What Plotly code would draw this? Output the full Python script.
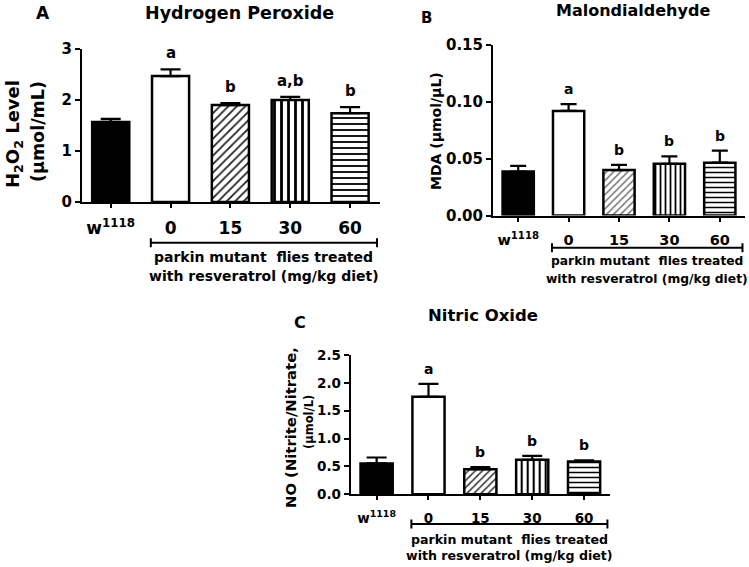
import plotly.graph_objects as go

W, H = 749, 567

categories = ["w1118", "0", "15", "30", "60"]
tick_labels = ["w<sup>1118</sup>", "0", "15", "30", "60"]

h2o2_mean = [1.57, 2.47, 1.90, 2.00, 1.74]
h2o2_sem = [0.06, 0.13, 0.04, 0.06, 0.12]
h2o2_letters = ["", "a", "b", "a,b", "b"]

mda_mean = [0.0386, 0.0920, 0.0400, 0.0455, 0.0465]
mda_sem = [0.0050, 0.0060, 0.0045, 0.0065, 0.0105]
mda_letters = ["", "a", "b", "b", "b"]

no_mean = [0.555, 1.75, 0.45, 0.62, 0.59]
no_sem = [0.105, 0.23, 0.04, 0.07, 0.02]
no_letters = ["", "a", "b", "b", "b"]

bar_fill = ["black", "white", "white", "white", "white"]
bar_shape = ["", "", "/", "|", "-"]

FONT = "DejaVu Sans, Liberation Sans, Arial, sans-serif"


def px(x):
    return x / W


def py(y):
    return 1 - y / H


xs = list(range(len(categories)))

panels = [
    dict(mean=h2o2_mean, sem=h2o2_sem, letters=h2o2_letters,
         xdom=[px(82), px(380)], ydom=[py(202), py(49)], xrange=[-0.48, 4.5],
         yrange=[0, 3], dtick=1, fmt="", tickfs=15, catfs=17, letfs=15, capw=10,
         pat_size=[8, 8, 6, 7, 6], pat_fg=["black", "black", "#222", "black", "black"],
         pat_sol=[0.2, 0.2, 0.3, 0.4, 0.3]),
    dict(mean=mda_mean, sem=mda_sem, letters=mda_letters,
         xdom=[px(493), px(745)], ydom=[py(215.5), py(45)], xrange=[-0.5, 4.5],
         yrange=[0, 0.15], dtick=0.05, fmt=".2f", tickfs=15, catfs=14.5, letfs=14, capw=8,
         pat_size=[8, 8, 5, 5, 5], pat_fg=["black", "black", "#777", "black", "black"],
         pat_sol=[0.2, 0.2, 0.3, 0.35, 0.3]),
    dict(mean=no_mean, sem=no_sem, letters=no_letters,
         xdom=[px(350.7), px(610)], ydom=[py(494.3), py(355)], xrange=[-0.5, 4.5],
         yrange=[0, 2.5], dtick=0.5, fmt=".1f", tickfs=13.5, catfs=13.5, letfs=14, capw=10,
         pat_size=[8, 8, 5, 6, 5], pat_fg=["black", "black", "#333", "black", "black"],
         pat_sol=[0.2, 0.2, 0.3, 0.35, 0.3]),
]

fig = go.Figure()
layout = dict(
    template="none",
    width=W, height=H, margin=dict(l=0, r=0, t=0, b=0, autoexpand=False),
    paper_bgcolor="white", plot_bgcolor="rgba(0,0,0,0)", showlegend=False,
    font=dict(family=FONT, color="black", weight="bold"),
    barmode="overlay",
)

annotations = []
shapes = []


def font(fs):
    return dict(size=fs, family=FONT, weight="bold", color="black")


def note(text, x, y, fs, **kw):
    d = dict(x=px(x), y=py(y), xref="paper", yref="paper", text=text,
             showarrow=False, xanchor="center", yanchor="middle", font=font(fs))
    d.update(kw)
    annotations.append(d)


for i, p in enumerate(panels):
    n = "" if i == 0 else str(i + 1)
    xa, ya = "x" + n, "y" + n
    for j, x in enumerate(xs):
        fig.add_trace(go.Bar(
            x=[x], y=[p["mean"][j]], xaxis=xa, yaxis=ya, width=0.62,
            marker=dict(
                color=bar_fill[j],
                line=dict(color="black", width=2.5),
                pattern=dict(shape=bar_shape[j], fgcolor=p["pat_fg"][j],
                             bgcolor=bar_fill[j], size=p["pat_size"][j],
                             solidity=p["pat_sol"][j], fillmode="replace"),
            ),
            error_y=dict(type="data", symmetric=False, array=[p["sem"][j]],
                         arrayminus=[0], color="black", thickness=2.2,
                         width=p["capw"]),
            hoverinfo="skip",
        ))
    layout["xaxis" + n] = dict(
        domain=p["xdom"], anchor=ya, range=p["xrange"], automargin=False,
        tickmode="array", tickvals=xs, ticktext=tick_labels,
        showline=True, linecolor="black", linewidth=2, mirror=False,
        ticks="outside", ticklen=4, tickwidth=1.5, tickcolor="black",
        showgrid=False, zeroline=False, fixedrange=True,
        tickfont=font(p["catfs"]), ticklabelstandoff=6,
    )
    layout["yaxis" + n] = dict(
        domain=p["ydom"], anchor=xa, range=p["yrange"], dtick=p["dtick"],
        tickformat=p["fmt"], showline=True, linecolor="black", linewidth=2,
        automargin=False,
        ticks="outside", ticklen=5, tickwidth=2, tickcolor="black",
        showgrid=False, zeroline=False, fixedrange=True,
        tickfont=font(p["tickfs"]),
    )
    for x, m, s, letter in zip(xs, p["mean"], p["sem"], p["letters"]):
        if letter:
            annotations.append(dict(
                x=x, y=m + s, xref=xa, yref=ya, text=letter, showarrow=False,
                xanchor="center", yanchor="bottom", yshift=5, font=font(p["letfs"]),
            ))

# bracket spanning the treated groups, in category-index units
bracket_lo, bracket_hi = 0.67, 4.45
bracket_y = [242.7, 247.7, 524.0]
text_y = [(257, 276), (261, 279), (539, 555)]
text_fs = [14, 12.3, 12.6]
for i, (by, (t1, t2), tfs) in enumerate(zip(bracket_y, text_y, text_fs)):
    n = "" if i == 0 else str(i + 1)
    xa = "x" + n
    shapes.append(dict(type="line", xref=xa, yref="paper", x0=bracket_lo, x1=bracket_hi,
                       y0=py(by), y1=py(by), line=dict(color="black", width=2)))
    for bx in (bracket_lo, bracket_hi):
        shapes.append(dict(type="line", xref=xa, yref="paper", x0=bx, x1=bx,
                           y0=py(by - 4.5), y1=py(by + 4.5), line=dict(color="black", width=2)))
    mid = (bracket_lo + bracket_hi) / 2
    for txt, ty in (("parkin mutant&nbsp;&nbsp;flies treated", t1),
                    ("with resveratrol (mg/kg diet)", t2)):
        annotations.append(dict(x=mid, xref=xa, y=py(ty), yref="paper", text=txt,
                                showarrow=False, xanchor="center", yanchor="middle",
                                font=font(tfs)))

for t, x, y, fs in [("Hydrogen Peroxide", 239, 13, 17.5),
                    ("Malondialdehyde", 633, 10, 16),
                    ("Nitric Oxide", 483, 315, 16.5)]:
    note(t, x, y, fs)
for t, x, y, fs in [("A", 43, 13, 17), ("B", 427, 18, 15), ("C", 300, 322, 16)]:
    note(t, x, y, fs)

for t, x, y, fs in [("H<sub>2</sub>O<sub>2</sub> Level", 14, 134, 18),
                    ("(µmol/mL)", 38, 132, 17.5),
                    ("MDA (µmol/µL)", 436, 131, 14),
                    ("NO (Nitrite/Nitrate,", 290, 428, 14.8),
                    ("(µmol/L)", 309, 422, 11.5)]:
    note(t, x, y, fs, textangle=-90)

layout["annotations"] = annotations
layout["shapes"] = shapes
fig.update_layout(**layout)
fig.write_html("out.html", config={"displayModeBar": False},
               post_script="document.body.style.margin='0';document.body.style.padding='0';")
